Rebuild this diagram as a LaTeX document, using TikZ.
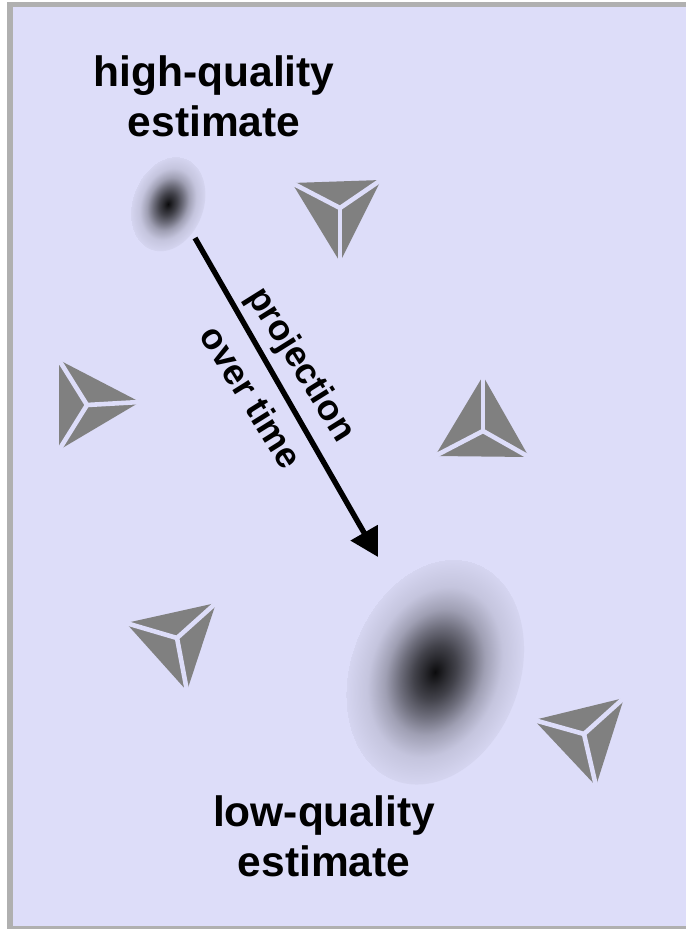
\documentclass[tikz,border=0pt]{standalone}
\usepackage{fontspec}
\setmainfont{Liberation Sans}
\usetikzlibrary{arrows.meta}
\definecolor{skycol}{HTML}{DDDDF9}
\definecolor{framecol}{HTML}{B0B0B0}
\definecolor{camcol}{HTML}{808080}
\pgfdeclareradialshading{blobshade}{\pgfpoint{0bp}{0bp}}{%
  color(0bp)=(black!95!skycol);
  color(3bp)=(black!82!skycol);
  color(6bp)=(black!70!skycol);
  color(10bp)=(black!50!skycol);
  color(14bp)=(black!28!skycol);
  color(19bp)=(black!11!skycol);
  color(25bp)=(black!3.5!skycol)}
\newcommand{\estimate}[3]{%
  \begin{scope}[transform canvas={shift={(#1,#2)},rotate=-20.3,xscale=#3*84.7,yscale=#3*115.8}]
    \shade[shading=blobshade] (0,0) circle [x=1pt,y=1pt,radius=1];
  \end{scope}}
\newcommand{\camera}[4]{%
  \fill[camcol] #1 -- #2 -- #3 -- cycle;
  \draw[skycol,line width=4.6pt,shorten >=-3pt] #4 -- #1;
  \draw[skycol,line width=4.6pt,shorten >=-3pt] #4 -- #2;
  \draw[skycol,line width=4.6pt,shorten >=-3pt] #4 -- #3;}
\tikzset{bigtext/.style={font=\bfseries\fontsize{42.5}{50}\selectfont,align=center,text=black},
  armtext/.style={font=\bfseries\fontsize{36}{40}\selectfont,text=black,rotate=-58}}
\begin{document}
\begin{tikzpicture}[x=1pt,y=-1pt]
  \useasboundingbox (0,0) rectangle (686,929);
  \fill[framecol] (7,2) rectangle (686,929);
  \fill[skycol] (13,7) rectangle (686,926);

  \estimate{168}{204}{0.42}
  \estimate{435}{672}{1}

  \camera{(292,183)}{(381,180)}{(340,262)}{(340,208)}
  \camera{(59,360)}{(140,402)}{(59,450)}{(87,405)}
  \camera{(483,376)}{(435,456)}{(529,457)}{(483,431)}
  \camera{(126,623)}{(216,603)}{(187,691)}{(177,638)}
  \camera{(534,720)}{(624,698)}{(596,786)}{(584,734)}

  \coordinate (start) at (195,238);
  \coordinate (end) at (378,557);
  \draw[line width=5.4pt,-{Triangle[length=28pt,width=30pt]}] (start) -- (end);

  \node[bigtext] (high) at (214,96) {high-quality\\estimate};
  \node[bigtext] (low) at (324,836) {low-quality\\estimate};
  \node[armtext] (proj) at (300,365) {projection};
  \node[armtext] (time) at (252,397) {over time};
\end{tikzpicture}
\end{document}
